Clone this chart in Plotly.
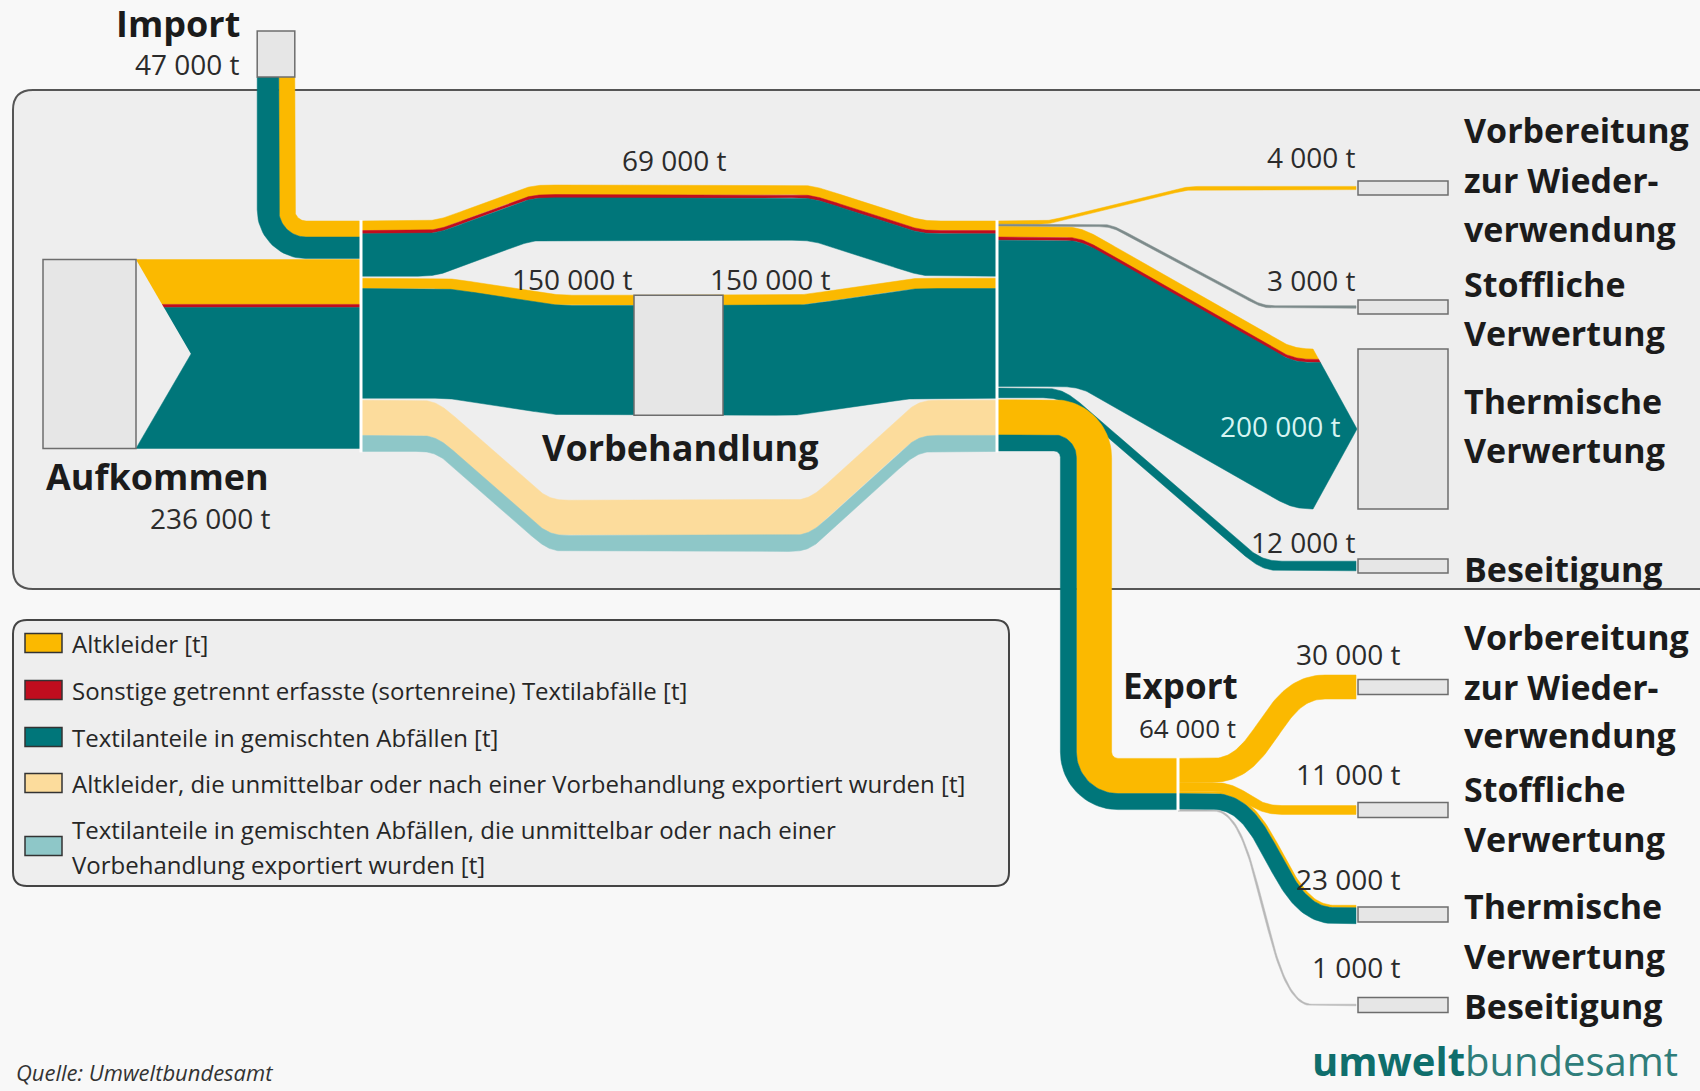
import numpy as np
import plotly.graph_objects as go

# Mengen in 1000 t
# Anteile jeweils: Altkleider, Sonstige (sortenrein), Textilanteile in gemischten Abfaellen
aufkommen = [56, 4, 176]
importe = [20, 0, 27]
ohne_vorbehandlung = [12, 4, 53]
vorbehandlung = [13, 0, 137]
export_gesamt = [44, 0, 20]

# Ziele: Vorbereitung zur Wiederverwendung, Stoffliche, Thermische Verwertung, Beseitigung
inland_ziele = [4, 3, 200, 12]
inland_thermisch = [13, 4, 183]
export_ziele = [30, 11, 23, 1]
export_thermisch = [3, 0, 20]

ziel_zeilen = [["Vorbereitung", "zur Wieder-", "verwendung"],
               ["Stoffliche", "Verwertung"],
               ["Thermische", "Verwertung"],
               ["Beseitigung"]]

legende = [
    "Altkleider [t]",
    "Sonstige getrennt erfasste (sortenreine) Textilabfälle [t]",
    "Textilanteile in gemischten Abfällen [t]",
    "Altkleider, die unmittelbar oder nach einer Vorbehandlung exportiert wurden [t]",
    "Textilanteile in gemischten Abfällen, die unmittelbar oder nach einer|Vorbehandlung exportiert wurden [t]",
]

GELB, ROT, PETROL = "#fbb900", "#c00d1e", "#00767a"
HELLGELB, HELLPETROL = "#fcdc9c", "#8ec7c8"
farben = [GELB, ROT, PETROL, HELLGELB, HELLPETROL]
VOLL = [GELB, ROT, PETROL]
HELL = [HELLGELB, ROT, HELLPETROL]

S = 0.8     # Pixel je 1000 t
GAP = 2
FONT = "Open Sans"

fig = go.Figure()


def tonnen(v):
    return f"{int(round(v * 1000)):,}".replace(",", " ") + " t"


def flaeche(px, py, farbe):
    fig.add_trace(go.Scatter(x=list(px), y=list(py), mode="lines", fill="toself",
                             fillcolor=farbe, line=dict(color=farbe, width=0.5),
                             hoverinfo="skip", showlegend=False))


def glatt(y, k):
    if k < 2:
        return y
    ker = np.ones(k) / k
    for _ in range(2):
        yp = np.pad(y, k, mode="edge")
        y = np.convolve(yp, ker, mode="same")[k:-k]
    return y


def spitze(x_basis, x_tip, y_oben, y_unten):
    ym = (y_oben + y_unten) / 2
    h = (y_unten - y_oben) / 2
    return (lambda y: x_basis + (x_tip - x_basis) * np.clip(1 - np.abs(np.asarray(y) - ym) / h, 0, 1), ym)


def hband(xk, yk, werte, cols, k=20, links=None, rechts=None, minw=0):
    # Band mit konstanter senkrechter Dicke
    xs = np.arange(xk[0], xk[-1] + 0.5, 1.0)
    top = glatt(np.interp(xs, xk, yk), k)
    breiten = [max(w * S, minw) if w > 0 else 0 for w in werte]
    off = np.concatenate([[0], np.cumsum(breiten)])
    for i, c in enumerate(cols):
        if breiten[i] <= 0:
            continue
        ya, yb = top + off[i], top + off[i + 1]
        xa, xb = xs.copy(), xs.copy()
        if links:
            xa, xb = np.maximum(xa, links[0](ya)), np.maximum(xb, links[0](yb))
        if rechts:
            xa, xb = np.minimum(xa, rechts[0](ya)), np.minimum(xb, rechts[0](yb))
        px, py = list(xa), list(ya)
        if rechts and ya[-1] < rechts[1] < yb[-1]:
            px.append(float(rechts[0](rechts[1])))
            py.append(rechts[1])
        px += list(xb[::-1])
        py += list(yb[::-1])
        if links and ya[0] < links[1] < yb[0]:
            px.append(float(links[0](links[1])))
            py.append(links[1])
        flaeche(px, py, c)


def rund(punkte, r, n=24):
    p = [np.array(q, float) for q in punkte]
    out = [p[0]]
    for i in range(1, len(p) - 1):
        d1 = (p[i] - p[i - 1]) / np.linalg.norm(p[i] - p[i - 1])
        d2 = (p[i + 1] - p[i]) / np.linalg.norm(p[i + 1] - p[i])
        phi = np.arccos(np.clip(np.dot(d1, d2), -1, 1))
        if phi < 1e-6:
            out.append(p[i])
            continue
        a = p[i] - d1 * r * np.tan(phi / 2)
        kr = np.sign(d1[0] * d2[1] - d1[1] * d2[0])
        c = a + np.array([-d1[1], d1[0]]) * kr * r
        a0 = np.arctan2(a[1] - c[1], a[0] - c[0])
        for s in np.linspace(0, 1, n):
            w = a0 + kr * phi * s
            out.append(c + r * np.array([np.cos(w), np.sin(w)]))
    out.append(p[-1])
    return out


def s_kurve(x0, y0, x1, y1, xa, xb, n=60):
    t = np.linspace(0, 1, n)
    m = (xa + xb) / 2
    bx = (1 - t) ** 3 * xa + 3 * (1 - t) ** 2 * t * m + 3 * (1 - t) * t ** 2 * m + t ** 3 * xb
    by = (1 - t) ** 3 * y0 + 3 * (1 - t) ** 2 * t * y0 + 3 * (1 - t) * t ** 2 * y1 + t ** 3 * y1
    return [(x0, y0)] + list(zip(bx, by)) + [(x1, y1)]


def ribbon(pfad, werte, cols, minw=0):
    # Band mit konstanter Dicke senkrecht zur Mittellinie
    p = np.array(pfad, float)
    keep = np.r_[True, np.linalg.norm(np.diff(p, axis=0), axis=1) > 1e-6]
    p = p[keep]
    t = np.gradient(p, axis=0)
    t /= np.linalg.norm(t, axis=1)[:, None]
    nrm = np.stack([t[:, 1], -t[:, 0]], axis=1)
    breiten = [max(w * S, minw) if w > 0 else 0 for w in werte]
    off = sum(breiten) / 2 - np.concatenate([[0], np.cumsum(breiten)])
    for i, c in enumerate(cols):
        if breiten[i] <= 0:
            continue
        A = p + off[i] * nrm
        B = p + off[i + 1] * nrm
        poly = np.vstack([A, B[::-1]])
        flaeche(poly[:, 0], poly[:, 1], c)


def kasten(x0, x1, y0, y1):
    fig.add_shape(type="rect", x0=x0, x1=x1, y0=y0, y1=y1, fillcolor="#e6e6e6",
                  line=dict(color="#6d6d6d", width=1.5), layer="above")


def text(x, y, s, size=28, bold=False, anchor="left", farbe="#2b2b2b", italic=False):
    fig.add_annotation(x=x, y=y, text=s, showarrow=False, xanchor=anchor, yanchor="middle",
                       font=dict(family=FONT, size=size, color=farbe,
                                 weight="bold" if bold else "normal",
                                 style="italic" if italic else "normal"))


def rahmen(x0, y0, x1, y1, r):
    return (f"M {x0 + r},{y0} L {x1 - r},{y0} Q {x1},{y0} {x1},{y0 + r} L {x1},{y1 - r} "
            f"Q {x1},{y1} {x1 - r},{y1} L {x0 + r},{y1} Q {x0},{y1} {x0},{y1 - r} "
            f"L {x0},{y0 + r} Q {x0},{y0} {x0 + r},{y0} Z")


# Hintergrundfelder
fig.add_shape(type="path", path=rahmen(13, 90, 1740, 589, 20), fillcolor="#eeeeee",
              line=dict(color="#555555", width=2), layer="below")
fig.add_shape(type="path", path=rahmen(13, 620, 1009, 886, 14), fillcolor="#eeeeee",
              line=dict(color="#444444", width=2), layer="below")

# Spalten
X_TEIL, X_ZUS, X_EXP, X_ZIEL = 361, 997, 1178, 1356
Y0 = 221

# Import
imp_w = sum(importe) * S
yc = Y0 + imp_w / 2
ribbon(rund([(276, 77), (276, yc), (X_TEIL, yc)], 30), importe, VOLL)
kasten(276 - imp_w / 2, 276 + imp_w / 2, 31, 77)

# Aufkommen
auf_top = Y0 + imp_w + 1
auf_h = sum(aufkommen) * S
hband([136, X_TEIL], [auf_top, auf_top], aufkommen, VOLL, k=0,
      links=spitze(136, 191, auf_top, auf_top + auf_h))
kasten(43, 136, auf_top, auf_top + auf_h)

# drei Wege zwischen Aufteilung und Zusammenfuehrung
g1 = Y0
g2 = g1 + sum(ohne_vorbehandlung) * S + GAP
g3 = g2 + sum(vorbehandlung) * S + GAP
hband([X_TEIL, 435, 531, 810, 921, X_ZUS], [g1, g1, g1 - 36, g1 - 36, g1, g1],
      ohne_vorbehandlung, VOLL, k=22)
vb_top = g2 + 17
hband([X_TEIL, 448, 557, 800, 911, X_ZUS], [g2, g2, vb_top, vb_top, g2, g2],
      vorbehandlung, VOLL, k=22)
hband([X_TEIL, 435, 548, 808, 917, X_ZUS], [g3, g3, g3 + 100, g3 + 100, g3, g3],
      export_gesamt, HELL, k=22)
kasten(634, 723, vb_top, vb_top + sum(vorbehandlung) * S)

# Verbleib im Inland
ziel_mitte = [188, 307, None, 566]
d = Y0
w = inland_ziele[0] * S
hband([X_ZUS, 1047, 1187, X_ZIEL], [d, d, ziel_mitte[0] - w / 2, ziel_mitte[0] - w / 2],
      [inland_ziele[0]], [GELB], k=16)
d += w
w = inland_ziele[1] * S
hband([X_ZUS, 1110, 1262, X_ZIEL], [d, d, ziel_mitte[1] - w / 2, ziel_mitte[1] - w / 2],
      [inland_ziele[1]], ["#7d8b8b"], k=16)
d += w
th_top = 349
th_h = sum(inland_thermisch) * S
hband([X_ZUS, 1080, 1293, 1357], [d, d, th_top, th_top], inland_thermisch, VOLL, k=25,
      rechts=spitze(1313, 1357, th_top, th_top + th_h))
d += th_h + 1.5
w = inland_ziele[3] * S
hband([X_ZUS, 1063, 1262, X_ZIEL], [d, d, ziel_mitte[3] - w / 2, ziel_mitte[3] - w / 2],
      [0, 0, inland_ziele[3]], VOLL, k=25)
d += w + GAP

for i, m in enumerate(ziel_mitte):
    if m is None:
        kasten(1358, 1448, th_top, th_top + th_h)
    else:
        kasten(1358, 1448, m - 7, m + 7)

# Export
exp_w = sum(export_gesamt) * S
ye = d + exp_w / 2
Y_EXP = 784
ribbon(rund([(X_ZUS, ye), (1086, ye), (1086, Y_EXP), (X_EXP, Y_EXP)], 32), export_gesamt, VOLL)

export_mitte = [687, 810, 914.5, 1005]
kurven = [(1212, 1325), (1212, 1282), (1214, 1335), (1214, 1312)]
export_farben = [[GELB], [GELB], VOLL, ["#b8b8b8"]]
export_werte = [[export_ziele[0]], [export_ziele[1]], export_thermisch, [export_ziele[3]]]
s = Y_EXP - exp_w / 2
for i in range(4):
    w = max(export_ziele[i] * S, 1.6)
    cs = s + w / 2
    ribbon(s_kurve(X_EXP, cs, X_ZIEL, export_mitte[i], *kurven[i]), export_werte[i],
           export_farben[i], minw=1.6)
    s += w
    kasten(1358, 1448, export_mitte[i] - 7.5, export_mitte[i] + 7.5)

# weisse Trennlinien
for x in (X_TEIL, X_ZUS):
    fig.add_shape(type="line", x0=x, x1=x, y0=Y0 - 1, y1=g3 + exp_w + 1,
                  line=dict(color="white", width=3))
fig.add_shape(type="line", x0=X_EXP, x1=X_EXP, y0=Y_EXP - exp_w / 2 - 1, y1=Y_EXP + exp_w / 2 + 1,
              line=dict(color="white", width=3))

# Beschriftungen
text(242, 23, "Import", 36, True, "right", "#1b1b1b")
text(242, 64, tonnen(sum(importe)), 28, anchor="right")
text(44, 476, "Aufkommen", 36, True, "left", "#1b1b1b")
text(273, 518, tonnen(sum(aufkommen)), 28, anchor="right")
text(674, 160, tonnen(sum(ohne_vorbehandlung)), 28, anchor="center")
text(572, 279, tonnen(sum(vorbehandlung)), 28, anchor="center")
text(770, 279, tonnen(sum(vorbehandlung)), 28, anchor="center")
text(680, 447, "Vorbehandlung", 36, True, "center", "#1b1b1b")
text(1121, 685, "Export", 35, True, "left", "#1b1b1b")
text(1238, 728, tonnen(sum(export_gesamt)), 26, anchor="right")

inland_text_y = [157, 280, 426, 542]
for i, v in enumerate(inland_ziele):
    if i == 2:
        text(1343, inland_text_y[i], tonnen(v), 28, anchor="right", farbe="#d6f4f2")
    else:
        text(1358, inland_text_y[i], tonnen(v), 28, anchor="right")
export_text_y = [654, 774, 879, 967]
for i, v in enumerate(export_ziele):
    text(1403, export_text_y[i], tonnen(v), 28, anchor="right")

zeilen_y = [[130, 180, 229], [284, 333], [401, 450], [569],
            [637, 687, 735], [789, 839], [906, 956], [1006]]
for j, ys in enumerate(zeilen_y):
    for zeile, y in zip(ziel_zeilen[j % 4], ys):
        text(1462, y, zeile, 34, True, "left", "#1b1b1b")

# Legende
leg_y = [643, 690, 737, 783, 846]
for farbe, eintrag, y in zip(farben, legende, leg_y):
    fig.add_shape(type="rect", x0=25, x1=62, y0=y - 9.5, y1=y + 9.5, fillcolor=farbe,
                  line=dict(color="#333333", width=1.5))
    teile = eintrag.split("|")
    if len(teile) == 1:
        text(70, y, teile[0], 24, farbe="#262626")
    else:
        text(70, y - 17, teile[0], 24, farbe="#262626")
        text(70, y + 18, teile[1], 24, farbe="#262626")

text(14, 1072, "Quelle: Umweltbundesamt", 22, farbe="#333333", italic=True)
text(1310, 1060, "<span style='color:#0f6e6c'><b>umwelt</b></span>"
                 "<span style='color:#2f7d7a'>bundesamt</span>", 40)

fig.update_layout(
    width=1700, height=1091,
    margin=dict(l=0, r=0, t=0, b=0),
    paper_bgcolor="#f8f8f8", plot_bgcolor="#f8f8f8",
    xaxis=dict(range=[0, 1700], visible=False, fixedrange=True),
    yaxis=dict(range=[1091, 0], visible=False, fixedrange=True),
    showlegend=False,
)

fig.write_html("out.html", config={"displayModeBar": False},
               post_script="document.body.style.margin='0';document.body.style.overflow='hidden';")
